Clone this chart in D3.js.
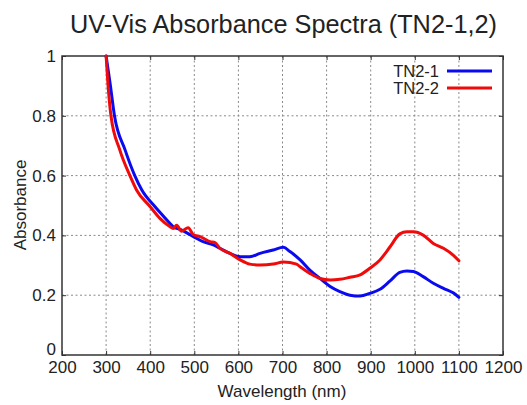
<!DOCTYPE html>
<html><head><meta charset="utf-8">
<script src="https://cdn.jsdelivr.net/npm/d3@7"></script>
<style>
html,body{margin:0;padding:0;background:#fff;}
svg{display:block;font-family:"Liberation Sans",Arial,Helvetica,sans-serif;}
</style></head>
<body><svg id="c" width="527" height="405"></svg>
<script>
const title = "UV-Vis Absorbance Spectra (TN2-1,2)";
const xLabel = "Wavelength (nm)";
const yLabel = "Absorbance";
const xTicks = [200,300,400,500,600,700,800,900,1000,1100,1200];
const yTicks = [0,0.2,0.4,0.6,0.8,1];
const seriesNames = ["TN2-1","TN2-2"];
const seriesColors = ["#0a0af0","#f00a0a"];

const tn21Wl = [300,309,319,343,365,381,411,429,445,452,468,498,520,543,558,581,604,626,649,679,702,717,740,762,785,808,830,853,876,898,921,944,966,982,997,1019,1042,1065,1087,1100];
const tn21Abs = [1.0,0.909,0.80,0.686,0.60,0.552,0.496,0.466,0.44,0.429,0.42,0.396,0.379,0.368,0.357,0.34,0.329,0.329,0.34,0.351,0.36,0.346,0.318,0.284,0.256,0.229,0.212,0.2,0.197,0.206,0.22,0.248,0.276,0.281,0.279,0.262,0.24,0.223,0.208,0.193];

const tn22Wl = [300,304,311,331,354,369,400,422,445,452,460,471,486,498,513,536,547,558,581,604,626,649,679,702,732,740,762,785,808,830,853,876,898,921,944,966,982,997,1019,1042,1065,1087,1100];
const tn22Abs = [1.0,0.91,0.80,0.686,0.60,0.552,0.496,0.457,0.429,0.423,0.434,0.414,0.426,0.402,0.396,0.379,0.376,0.357,0.34,0.318,0.304,0.301,0.304,0.311,0.304,0.295,0.273,0.256,0.251,0.253,0.26,0.268,0.29,0.318,0.362,0.405,0.412,0.412,0.401,0.373,0.357,0.334,0.315];

const svg = d3.select("#c");
const m = {l:62, r:503, t:56, b:355};
const x = d3.scaleLinear().domain([200,1200]).range([m.l,m.r]);
const y = d3.scaleLinear().domain([0,1]).range([m.b,m.t]);

// grid
const g = svg.append("g");
g.selectAll(".gx").data(xTicks.slice(1,-1)).enter().append("line")
  .attr("x1",d=>x(d)).attr("x2",d=>x(d)).attr("y1",m.t).attr("y2",m.b)
  .attr("stroke","#8a8a8a").attr("stroke-width",1).attr("stroke-dasharray","2,2.5");
g.selectAll(".gy").data(yTicks.slice(1,-1)).enter().append("line")
  .attr("y1",d=>y(d)).attr("y2",d=>y(d)).attr("x1",m.l).attr("x2",m.r)
  .attr("stroke","#8a8a8a").attr("stroke-width",1).attr("stroke-dasharray","2,2.5");

// axes
const xb = d3.axisBottom(x).tickValues(xTicks).tickSize(-4).tickPadding(6).tickFormat(d3.format("d"));
const xt = d3.axisTop(x).tickValues(xTicks).tickSize(-4).tickFormat("");
const yl = d3.axisLeft(y).tickValues(yTicks).tickSize(-4).tickPadding(6).tickFormat(d=>d3.format("")(d));
const yr = d3.axisRight(y).tickValues(yTicks).tickSize(-4).tickFormat("");
function style(sel){
  sel.select(".domain").remove();
  sel.selectAll("line").attr("stroke","#333").attr("stroke-width",1);
  sel.selectAll("text").attr("fill","#222").style("font-size","17px");
}
svg.append("g").attr("transform",`translate(0,${m.b})`).call(xb).call(style)
  .selectAll("text").attr("dy","0.71em");
svg.append("g").attr("transform",`translate(0,${m.t})`).call(xt).call(style);
svg.append("g").attr("transform",`translate(${m.l},0)`).call(yl).call(style)
  .selectAll("text").attr("dy",d=>d===0?"-0.05em":"0.32em");
svg.append("g").attr("transform",`translate(${m.r},0)`).call(yr).call(style);
svg.append("rect").attr("x",m.l).attr("y",m.t).attr("width",m.r-m.l).attr("height",m.b-m.t)
  .attr("fill","none").attr("stroke","#333").attr("stroke-width",1.5);

// lines
const series = [
  {wl:tn21Wl, ab:tn21Abs},
  {wl:tn22Wl, ab:tn22Abs}
];
const line = d3.line().x(d=>x(d[0])).y(d=>y(d[1])).curve(d3.curveMonotoneX);
series.forEach((s,i)=>{
  svg.append("path").datum(s.wl.map((w,j)=>[w,s.ab[j]]))
    .attr("d",line).attr("fill","none").attr("stroke",seriesColors[i])
    .attr("stroke-width",3).attr("stroke-linejoin","round").attr("stroke-linecap","round");
});

// legend
seriesNames.forEach((n,i)=>{
  const ly = 71 + i*17;
  svg.append("text").attr("x",439).attr("y",ly).attr("dy","0.35em").attr("text-anchor","end")
    .style("font-size","16.5px").attr("fill","#222").text(n);
  svg.append("line").attr("x1",447).attr("x2",492).attr("y1",ly).attr("y2",ly)
    .attr("stroke",seriesColors[i]).attr("stroke-width",3);
});

// titles
svg.append("text").attr("x",283.5).attr("y",33).attr("text-anchor","middle")
  .style("font-size","25.3px").attr("fill","#222").text(title);
svg.append("text").attr("x",282).attr("y",397).attr("text-anchor","middle")
  .style("font-size","17px").attr("fill","#222").text(xLabel);
svg.append("text").attr("transform","translate(26,205) rotate(-90)").attr("text-anchor","middle")
  .style("font-size","17px").attr("fill","#222").text(yLabel);
</script></body></html>
